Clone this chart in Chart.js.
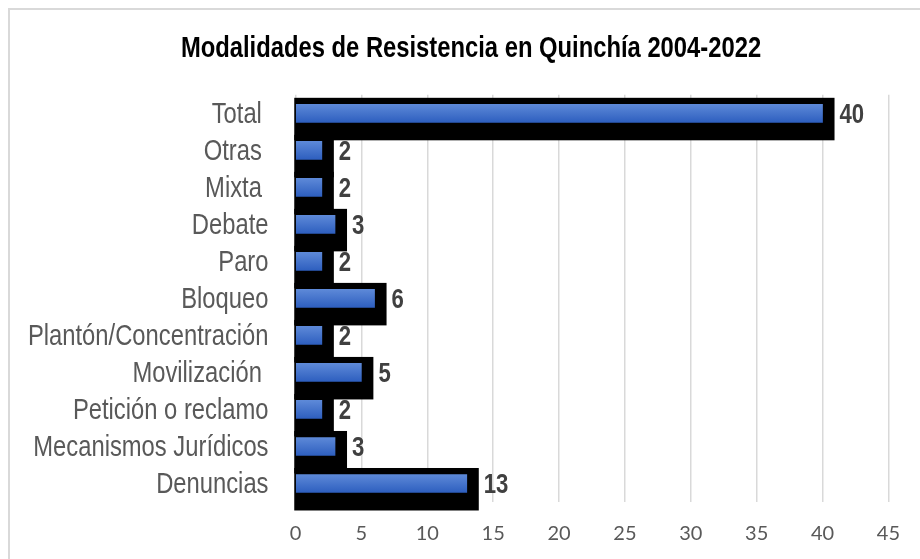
<!DOCTYPE html>
<html lang="es">
<head>
    <meta charset="UTF-8">
    <title>Modalidades de Resistencia en Quinchía 2004-2022</title>
    <script src="https://cdn.jsdelivr.net/npm/chart.js"></script>
    <style>
        body { margin: 0; background: #fff; }
        canvas { display: block; }
    </style>
</head>
<body>
    <canvas id="chart" width="920" height="559"></canvas>
    <script>
        const categories = ['Total ', 'Otras ', 'Mixta ', 'Debate', 'Paro', 'Bloqueo', 'Plantón/Concentración',
            'Movilización ', 'Petición o reclamo', 'Mecanismos Jurídicos', 'Denuncias'];
        const counts = [40, 2, 2, 3, 2, 6, 2, 5, 2, 3, 13];
        const xMin = 0, xMax = 45, xStep = 5;

        const sans = '"Liberation Sans", Arial, sans-serif';
        const squeeze = 0.82; // the original text is a narrow face; squash regular Liberation Sans to match

        // light grey frame round the chart (only top/left fall inside the picture)
        const framePlugin = {
            id: 'frame',
            beforeDraw(chart) {
                const c = chart.ctx;
                c.save();
                c.fillStyle = '#fff';
                c.fillRect(0, 0, chart.width, chart.height);
                c.strokeStyle = '#d9d9d9';
                c.lineWidth = 2;
                c.strokeRect(9, 9, chart.width + 20, chart.height + 20);
                c.restore();
            }
        };

        // narrow the y labels and the title by drawing them through a horizontal scale
        const narrowText = {
            id: 'narrowText',
            afterLayout(chart) {
                const ys = chart.scales.y;
                if (ys && !ys._narrow) {
                    const orig = ys.drawLabels;
                    ys.drawLabels = function(area) {
                        const c = this.ctx;
                        const ax = this.right - this.options.ticks.padding;
                        const keepLeft = this.left;
                        // widen the label clip box so it covers the canvas once squeezed
                        this.left = ax - ax / squeeze;
                        c.save();
                        c.translate(ax, 2);
                        c.scale(squeeze, 1);
                        c.translate(-ax, 0);
                        orig.call(this, area);
                        c.restore();
                        this.left = keepLeft;
                    };
                    ys._narrow = true;
                }
                const tb = chart.titleBlock;
                if (tb && !tb._narrow) {
                    const origT = tb.draw;
                    tb.draw = function() {
                        const c = this.ctx;
                        const cx = (this.left + this.right) / 2;
                        c.save();
                        c.translate(cx + 25, 0);
                        c.scale(squeeze, 1);
                        c.translate(-cx, 0);
                        origT.call(this);
                        c.restore();
                    };
                    tb._narrow = true;
                }
            }
        };

        // solid black "shadow" behind each bar
        const shadowPlugin = {
            id: 'barShadow',
            beforeDatasetsDraw(chart) {
                const c = chart.ctx;
                const meta = chart.getDatasetMeta(0);
                c.save();
                c.fillStyle = '#000';
                meta.data.forEach(bar => {
                    const p = bar.getProps(['x', 'y', 'base', 'height'], true);
                    const left = p.base - 2;
                    const right = p.x + 12;
                    c.fillRect(left, p.y - p.height / 2 - 6.5, right - left, p.height + 24.5);
                });
                c.restore();
            }
        };

        // value labels to the right of the bars
        const valueLabels = {
            id: 'valueLabels',
            afterDatasetsDraw(chart) {
                const c = chart.ctx;
                const meta = chart.getDatasetMeta(0);
                meta.data.forEach((bar, i) => {
                    const p = bar.getProps(['x', 'y'], true);
                    const lx = p.x + 17;
                    c.save();
                    c.translate(lx, 0);
                    c.scale(squeeze, 1);
                    c.font = 'bold 27px ' + sans;
                    c.fillStyle = '#404040';
                    c.textAlign = 'left';
                    c.textBaseline = 'middle';
                    c.fillText(String(counts[i]), 0, p.y + 2);
                    c.restore();
                });
            }
        };

        new Chart(document.getElementById('chart'), {
            type: 'bar',
            data: {
                labels: categories,
                datasets: [{
                    data: counts,
                    barThickness: 18,
                    backgroundColor: function(context) {
                        const y = context.chart.scales.y;
                        if (!y || context.dataIndex === undefined) return '#4472c4';
                        const mid = y.getPixelForValue(context.dataIndex);
                        if (!isFinite(mid)) return '#4472c4';
                        const g = context.chart.ctx.createLinearGradient(0, mid - 9, 0, mid + 9);
                        g.addColorStop(0, '#5d89d8');
                        g.addColorStop(1, '#2e5fbf');
                        return g;
                    },
                    borderWidth: 0
                }]
            },
            options: {
                indexAxis: 'y',
                responsive: false,
                animation: false,
                layout: { padding: { left: 0, right: 28, top: 0, bottom: 0 } },
                scales: {
                    x: {
                        min: xMin,
                        max: xMax,
                        ticks: {
                            stepSize: xStep,
                            padding: 20,
                            color: '#595959',
                            font: { family: 'Lato, "Open Sans", sans-serif', size: 20 }
                        },
                        grid: { color: '#d9d9d9', lineWidth: 1.5, drawTicks: false },
                        border: { display: false },
                        afterFit(scale) { scale.height = 57; }
                    },
                    y: {
                        ticks: {
                            padding: 27,
                            autoSkip: false,
                            color: '#595959',
                            font: { family: sans, size: 29 }
                        },
                        grid: { display: false, drawTicks: false },
                        border: { display: false },
                        afterFit(scale) { scale.width = 295.5; }
                    }
                },
                plugins: {
                    legend: { display: false },
                    tooltip: { enabled: false },
                    title: {
                        display: true,
                        text: 'Modalidades de Resistencia en Quinchía 2004-2022',
                        color: '#000',
                        font: { family: sans, size: 29, weight: 'bold' },
                        padding: { top: 32, bottom: 28 }
                    }
                }
            },
            plugins: [framePlugin, narrowText, shadowPlugin, valueLabels]
        });
    </script>
</body>
</html>
